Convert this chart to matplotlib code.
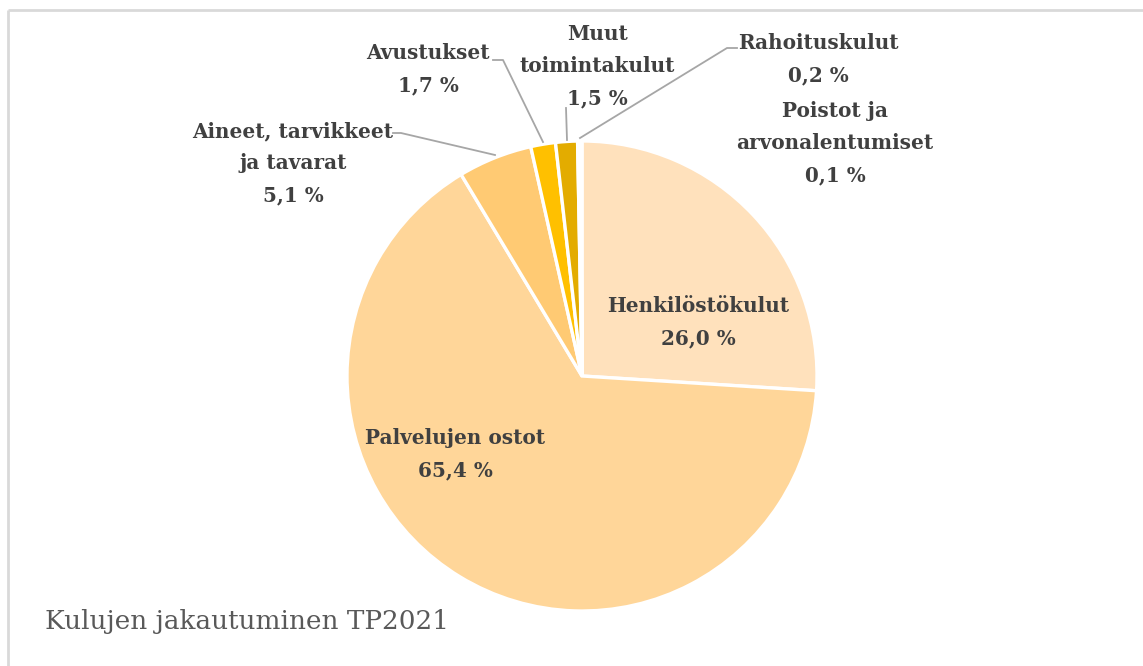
import matplotlib
matplotlib.use('Agg')
import matplotlib.pyplot as plt

# kulujen jakauma TP2021 (%)
labels = ['Henkilöstökulut', 'Palvelujen ostot', 'Aineet, tarvikkeet\nja tavarat',
          'Avustukset', 'Muut\ntoimintakulut', 'Rahoituskulut', 'Poistot ja\narvonalentumiset']
values = [26.0, 65.4, 5.1, 1.7, 1.5, 0.2, 0.1]
colors = ['#FFE1BC', '#FFD699', '#FFCA73', '#FFC000', '#E3AC00', '#C99700', '#B08400']
title = 'Kulujen jakautuminen TP2021'

W, H = 1143, 666
fig = plt.figure(figsize=(W / 100, H / 100), dpi=100)
ax = fig.add_axes([0, 0, 1, 1])

def Y(y):
    return H - y

ax.pie(values, colors=colors, startangle=90, counterclock=False,
       center=(582, Y(376)), radius=235, explode=[0.016, 0, 0, 0, 0, 0, 0],
       wedgeprops=dict(edgecolor='white', linewidth=2.4))
ax.set_xlim(0, W)
ax.set_ylim(0, H)
ax.set_aspect('auto')
ax.axis('off')

# kehys (vain ylä- ja vasen reuna näkyvissä)
ax.plot([8, W], [Y(10), Y(10)], color='#D9D9D9', lw=2, solid_capstyle='butt')
ax.plot([8, 8], [Y(10), 0], color='#D9D9D9', lw=2, solid_capstyle='butt')

font = dict(family='DejaVu Serif', fontweight='bold', fontsize=14.4, color='#404040')

def label(x, y, text, pitch=32):
    for i, line in enumerate(text.split('\n')):
        ax.text(x, Y(y + i * pitch), line, ha='center', va='center', **font)

def fmt(v):
    return ('%.1f' % v).replace('.', ',') + ' %'

pos = [(698, 306), (455, 438), (293, 131), (428, 53), (597, 34), (818, 43), (835, 111)]
for (x, y), lab, v in zip(pos, labels, values):
    label(x, y, lab + '\n' + fmt(v))

# johtoviivat
lc = '#A6A6A6'
leaders = [
    ([393, 401, 495], [133, 133, 155]),
    ([493, 503, 543], [60, 60, 142]),
    ([566, 567], [108, 140]),
    ([737, 727, 580], [48, 48, 138]),
]
for xs, ys in leaders:
    ax.plot(xs, [Y(v) for v in ys], color=lc, lw=1.3)

ax.text(45, Y(622), title, ha='left', va='center', family='DejaVu Serif',
        fontsize=18.9, color='#595959')

fig.savefig('out.png', dpi=100)
